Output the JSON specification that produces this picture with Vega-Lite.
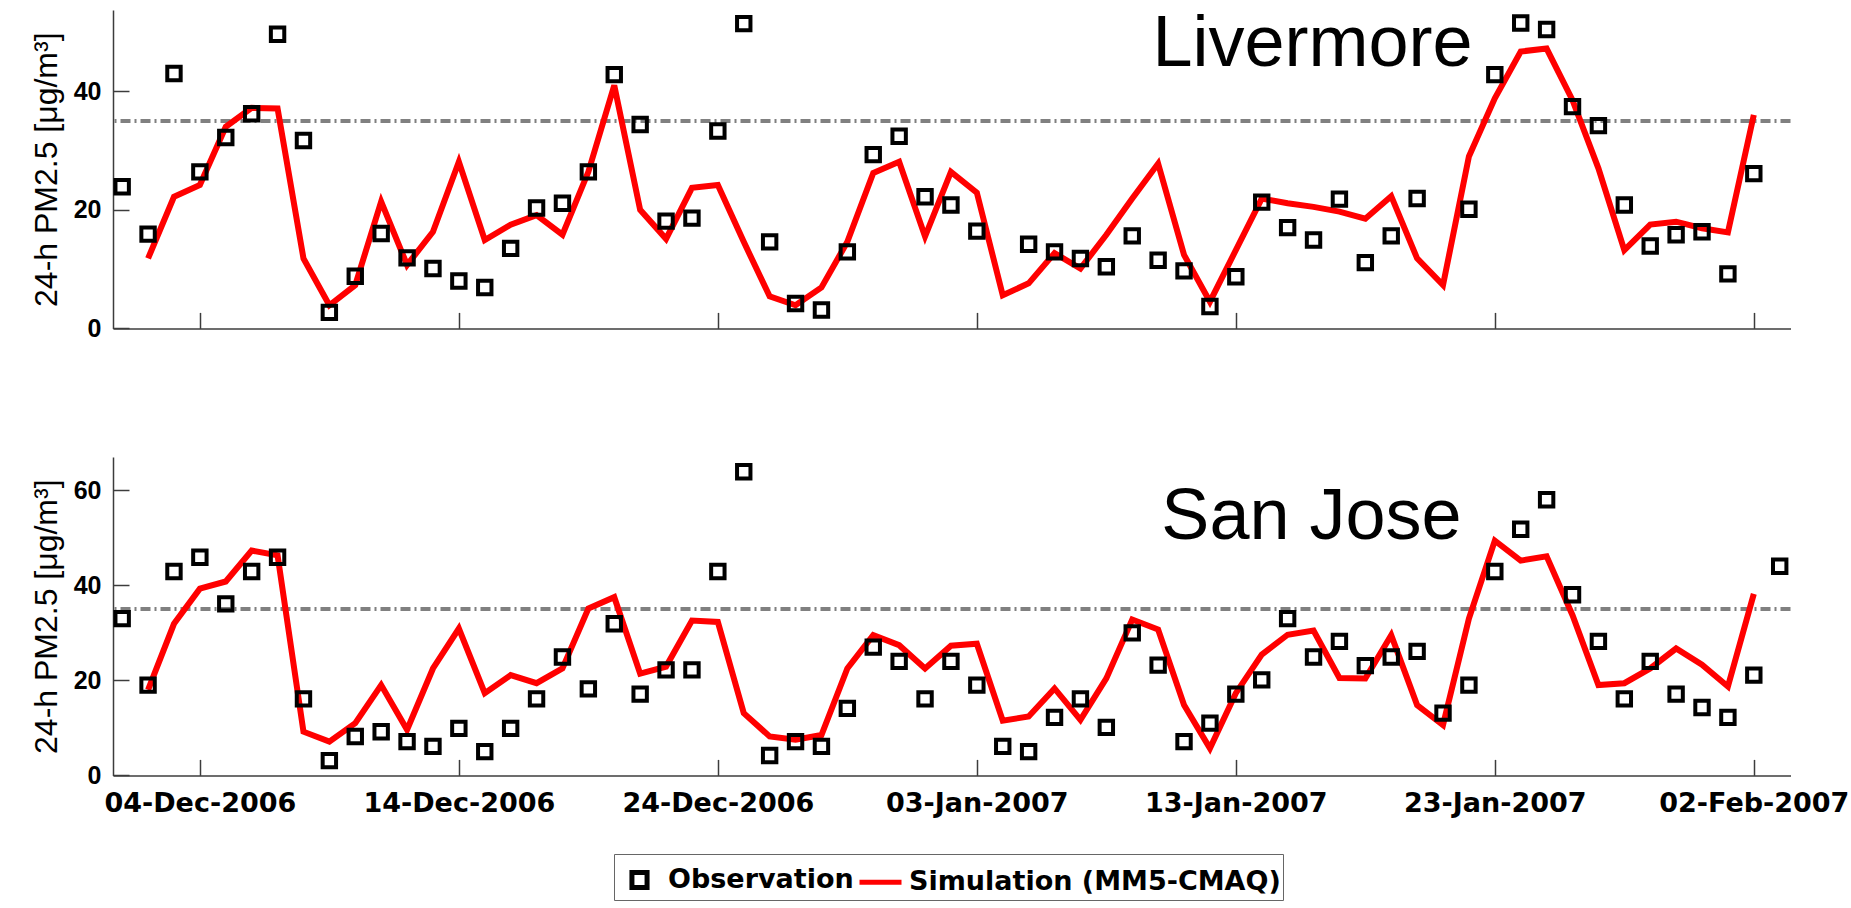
{
  "$schema": "https://vega.github.io/schema/vega-lite/v6.json",
  "autosize": {"type": "pad"},
  "padding": {"left": 30, "top": 8, "right": 0, "bottom": 0},
  "background": "white",
  "bounds": "flush",
  "spacing": 128,
  "config": {
    "view": {"stroke": null},
    "axis": {
      "domainColor": "#3c3c3c", "domainWidth": 1.5, "tickColor": "#3c3c3c", "tickWidth": 1.5, "tickSize": -16,
      "grid": false, "labelColor": "#000", "labelFlush": false, "labelOverlap": false, "labelLimit": 400,
      "titleFont": "Liberation Sans", "titleFontWeight": "normal", "titleFontSize": 32, "titleColor": "#000", "titlePadding": 10
    },
    "legend": {
      "orient": "none", "legendX": 501, "legendY": 844, "direction": "horizontal", "title": null,
      "labelFont": "DejaVu Sans", "labelFontWeight": "bold", "labelFontSize": 27, "labelColor": "#000", "labelLimit": 600,
      "symbolSize": 1764, "symbolStrokeWidth": 5, "labelOffset": 5, "columnPadding": -5,
      "strokeColor": "#666", "fillColor": "white", "padding": 2
    }
  },
  "resolve": {"scale": {"y": "independent", "x": "shared", "color": "shared", "shape": "shared"}},
  "datasets": {
    "pm": [
      {"station":"Livermore","series":"Observation","date":"2006-12-01","value":23.9},
      {"station":"Livermore","series":"Observation","date":"2006-12-02","value":15.9},
      {"station":"Livermore","series":"Observation","date":"2006-12-03","value":43.0},
      {"station":"Livermore","series":"Observation","date":"2006-12-04","value":26.4},
      {"station":"Livermore","series":"Observation","date":"2006-12-05","value":32.2},
      {"station":"Livermore","series":"Observation","date":"2006-12-06","value":36.2},
      {"station":"Livermore","series":"Observation","date":"2006-12-07","value":49.6},
      {"station":"Livermore","series":"Observation","date":"2006-12-08","value":31.7},
      {"station":"Livermore","series":"Observation","date":"2006-12-09","value":2.7},
      {"station":"Livermore","series":"Observation","date":"2006-12-10","value":8.8},
      {"station":"Livermore","series":"Observation","date":"2006-12-11","value":16.0},
      {"station":"Livermore","series":"Observation","date":"2006-12-12","value":11.9},
      {"station":"Livermore","series":"Observation","date":"2006-12-13","value":10.1},
      {"station":"Livermore","series":"Observation","date":"2006-12-14","value":8.0},
      {"station":"Livermore","series":"Observation","date":"2006-12-15","value":6.9},
      {"station":"Livermore","series":"Observation","date":"2006-12-16","value":13.5},
      {"station":"Livermore","series":"Observation","date":"2006-12-17","value":20.3},
      {"station":"Livermore","series":"Observation","date":"2006-12-18","value":21.1},
      {"station":"Livermore","series":"Observation","date":"2006-12-19","value":26.4},
      {"station":"Livermore","series":"Observation","date":"2006-12-20","value":42.8},
      {"station":"Livermore","series":"Observation","date":"2006-12-21","value":34.4},
      {"station":"Livermore","series":"Observation","date":"2006-12-22","value":18.1},
      {"station":"Livermore","series":"Observation","date":"2006-12-23","value":18.6},
      {"station":"Livermore","series":"Observation","date":"2006-12-24","value":33.3},
      {"station":"Livermore","series":"Observation","date":"2006-12-25","value":51.4},
      {"station":"Livermore","series":"Observation","date":"2006-12-26","value":14.6},
      {"station":"Livermore","series":"Observation","date":"2006-12-27","value":4.2},
      {"station":"Livermore","series":"Observation","date":"2006-12-28","value":3.1},
      {"station":"Livermore","series":"Observation","date":"2006-12-29","value":12.9},
      {"station":"Livermore","series":"Observation","date":"2006-12-30","value":29.3},
      {"station":"Livermore","series":"Observation","date":"2006-12-31","value":32.4},
      {"station":"Livermore","series":"Observation","date":"2007-01-01","value":22.2},
      {"station":"Livermore","series":"Observation","date":"2007-01-02","value":20.8},
      {"station":"Livermore","series":"Observation","date":"2007-01-03","value":16.4},
      {"station":"Livermore","series":"Observation","date":"2007-01-05","value":14.2},
      {"station":"Livermore","series":"Observation","date":"2007-01-06","value":12.9},
      {"station":"Livermore","series":"Observation","date":"2007-01-07","value":11.8},
      {"station":"Livermore","series":"Observation","date":"2007-01-08","value":10.4},
      {"station":"Livermore","series":"Observation","date":"2007-01-09","value":15.6},
      {"station":"Livermore","series":"Observation","date":"2007-01-10","value":11.5},
      {"station":"Livermore","series":"Observation","date":"2007-01-11","value":9.7},
      {"station":"Livermore","series":"Observation","date":"2007-01-12","value":3.7},
      {"station":"Livermore","series":"Observation","date":"2007-01-13","value":8.7},
      {"station":"Livermore","series":"Observation","date":"2007-01-14","value":21.3},
      {"station":"Livermore","series":"Observation","date":"2007-01-15","value":17.0},
      {"station":"Livermore","series":"Observation","date":"2007-01-16","value":14.9},
      {"station":"Livermore","series":"Observation","date":"2007-01-17","value":21.8},
      {"station":"Livermore","series":"Observation","date":"2007-01-18","value":11.1},
      {"station":"Livermore","series":"Observation","date":"2007-01-19","value":15.6},
      {"station":"Livermore","series":"Observation","date":"2007-01-20","value":21.9},
      {"station":"Livermore","series":"Observation","date":"2007-01-22","value":20.1},
      {"station":"Livermore","series":"Observation","date":"2007-01-23","value":42.8},
      {"station":"Livermore","series":"Observation","date":"2007-01-24","value":51.5},
      {"station":"Livermore","series":"Observation","date":"2007-01-25","value":50.4},
      {"station":"Livermore","series":"Observation","date":"2007-01-26","value":37.4},
      {"station":"Livermore","series":"Observation","date":"2007-01-27","value":34.2},
      {"station":"Livermore","series":"Observation","date":"2007-01-28","value":20.8},
      {"station":"Livermore","series":"Observation","date":"2007-01-29","value":13.9},
      {"station":"Livermore","series":"Observation","date":"2007-01-30","value":15.8},
      {"station":"Livermore","series":"Observation","date":"2007-01-31","value":16.3},
      {"station":"Livermore","series":"Observation","date":"2007-02-01","value":9.2},
      {"station":"Livermore","series":"Observation","date":"2007-02-02","value":26.1},

      {"station":"Livermore","series":"Simulation (MM5-CMAQ)","date":"2006-12-02","value":11.8},
      {"station":"Livermore","series":"Simulation (MM5-CMAQ)","date":"2006-12-03","value":22.2},
      {"station":"Livermore","series":"Simulation (MM5-CMAQ)","date":"2006-12-04","value":24.2},
      {"station":"Livermore","series":"Simulation (MM5-CMAQ)","date":"2006-12-05","value":34.0},
      {"station":"Livermore","series":"Simulation (MM5-CMAQ)","date":"2006-12-06","value":37.2},
      {"station":"Livermore","series":"Simulation (MM5-CMAQ)","date":"2006-12-07","value":37.1},
      {"station":"Livermore","series":"Simulation (MM5-CMAQ)","date":"2006-12-08","value":11.8},
      {"station":"Livermore","series":"Simulation (MM5-CMAQ)","date":"2006-12-09","value":3.9},
      {"station":"Livermore","series":"Simulation (MM5-CMAQ)","date":"2006-12-10","value":7.3},
      {"station":"Livermore","series":"Simulation (MM5-CMAQ)","date":"2006-12-11","value":21.4},
      {"station":"Livermore","series":"Simulation (MM5-CMAQ)","date":"2006-12-12","value":10.7},
      {"station":"Livermore","series":"Simulation (MM5-CMAQ)","date":"2006-12-13","value":16.3},
      {"station":"Livermore","series":"Simulation (MM5-CMAQ)","date":"2006-12-14","value":28.1},
      {"station":"Livermore","series":"Simulation (MM5-CMAQ)","date":"2006-12-15","value":14.9},
      {"station":"Livermore","series":"Simulation (MM5-CMAQ)","date":"2006-12-16","value":17.5},
      {"station":"Livermore","series":"Simulation (MM5-CMAQ)","date":"2006-12-17","value":19.1},
      {"station":"Livermore","series":"Simulation (MM5-CMAQ)","date":"2006-12-18","value":15.8},
      {"station":"Livermore","series":"Simulation (MM5-CMAQ)","date":"2006-12-19","value":26.4},
      {"station":"Livermore","series":"Simulation (MM5-CMAQ)","date":"2006-12-20","value":41.0},
      {"station":"Livermore","series":"Simulation (MM5-CMAQ)","date":"2006-12-21","value":20.0},
      {"station":"Livermore","series":"Simulation (MM5-CMAQ)","date":"2006-12-22","value":15.1},
      {"station":"Livermore","series":"Simulation (MM5-CMAQ)","date":"2006-12-23","value":23.7},
      {"station":"Livermore","series":"Simulation (MM5-CMAQ)","date":"2006-12-24","value":24.2},
      {"station":"Livermore","series":"Simulation (MM5-CMAQ)","date":"2006-12-25","value":14.6},
      {"station":"Livermore","series":"Simulation (MM5-CMAQ)","date":"2006-12-26","value":5.4},
      {"station":"Livermore","series":"Simulation (MM5-CMAQ)","date":"2006-12-27","value":3.9},
      {"station":"Livermore","series":"Simulation (MM5-CMAQ)","date":"2006-12-28","value":6.9},
      {"station":"Livermore","series":"Simulation (MM5-CMAQ)","date":"2006-12-29","value":14.6},
      {"station":"Livermore","series":"Simulation (MM5-CMAQ)","date":"2006-12-30","value":26.2},
      {"station":"Livermore","series":"Simulation (MM5-CMAQ)","date":"2006-12-31","value":28.1},
      {"station":"Livermore","series":"Simulation (MM5-CMAQ)","date":"2007-01-01","value":15.5},
      {"station":"Livermore","series":"Simulation (MM5-CMAQ)","date":"2007-01-02","value":26.4},
      {"station":"Livermore","series":"Simulation (MM5-CMAQ)","date":"2007-01-03","value":22.9},
      {"station":"Livermore","series":"Simulation (MM5-CMAQ)","date":"2007-01-04","value":5.6},
      {"station":"Livermore","series":"Simulation (MM5-CMAQ)","date":"2007-01-05","value":7.6},
      {"station":"Livermore","series":"Simulation (MM5-CMAQ)","date":"2007-01-06","value":12.7},
      {"station":"Livermore","series":"Simulation (MM5-CMAQ)","date":"2007-01-07","value":10.1},
      {"station":"Livermore","series":"Simulation (MM5-CMAQ)","date":"2007-01-08","value":15.8},
      {"station":"Livermore","series":"Simulation (MM5-CMAQ)","date":"2007-01-09","value":21.9},
      {"station":"Livermore","series":"Simulation (MM5-CMAQ)","date":"2007-01-10","value":27.8},
      {"station":"Livermore","series":"Simulation (MM5-CMAQ)","date":"2007-01-11","value":12.4},
      {"station":"Livermore","series":"Simulation (MM5-CMAQ)","date":"2007-01-12","value":4.5},
      {"station":"Livermore","series":"Simulation (MM5-CMAQ)","date":"2007-01-13","value":13.2},
      {"station":"Livermore","series":"Simulation (MM5-CMAQ)","date":"2007-01-14","value":21.9},
      {"station":"Livermore","series":"Simulation (MM5-CMAQ)","date":"2007-01-15","value":21.1},
      {"station":"Livermore","series":"Simulation (MM5-CMAQ)","date":"2007-01-16","value":20.5},
      {"station":"Livermore","series":"Simulation (MM5-CMAQ)","date":"2007-01-17","value":19.7},
      {"station":"Livermore","series":"Simulation (MM5-CMAQ)","date":"2007-01-18","value":18.5},
      {"station":"Livermore","series":"Simulation (MM5-CMAQ)","date":"2007-01-19","value":22.3},
      {"station":"Livermore","series":"Simulation (MM5-CMAQ)","date":"2007-01-20","value":11.8},
      {"station":"Livermore","series":"Simulation (MM5-CMAQ)","date":"2007-01-21","value":7.3},
      {"station":"Livermore","series":"Simulation (MM5-CMAQ)","date":"2007-01-22","value":29.0},
      {"station":"Livermore","series":"Simulation (MM5-CMAQ)","date":"2007-01-23","value":38.8},
      {"station":"Livermore","series":"Simulation (MM5-CMAQ)","date":"2007-01-24","value":46.7},
      {"station":"Livermore","series":"Simulation (MM5-CMAQ)","date":"2007-01-25","value":47.2},
      {"station":"Livermore","series":"Simulation (MM5-CMAQ)","date":"2007-01-26","value":38.5},
      {"station":"Livermore","series":"Simulation (MM5-CMAQ)","date":"2007-01-27","value":27.0},
      {"station":"Livermore","series":"Simulation (MM5-CMAQ)","date":"2007-01-28","value":13.2},
      {"station":"Livermore","series":"Simulation (MM5-CMAQ)","date":"2007-01-29","value":17.5},
      {"station":"Livermore","series":"Simulation (MM5-CMAQ)","date":"2007-01-30","value":18.0},
      {"station":"Livermore","series":"Simulation (MM5-CMAQ)","date":"2007-01-31","value":16.9},
      {"station":"Livermore","series":"Simulation (MM5-CMAQ)","date":"2007-02-01","value":16.2},
      {"station":"Livermore","series":"Simulation (MM5-CMAQ)","date":"2007-02-02","value":36.0},

      {"station":"San Jose","series":"Observation","date":"2006-12-01","value":33.0},
      {"station":"San Jose","series":"Observation","date":"2006-12-02","value":19.0},
      {"station":"San Jose","series":"Observation","date":"2006-12-03","value":42.9},
      {"station":"San Jose","series":"Observation","date":"2006-12-04","value":45.9},
      {"station":"San Jose","series":"Observation","date":"2006-12-05","value":36.1},
      {"station":"San Jose","series":"Observation","date":"2006-12-06","value":42.9},
      {"station":"San Jose","series":"Observation","date":"2006-12-07","value":45.9},
      {"station":"San Jose","series":"Observation","date":"2006-12-08","value":16.1},
      {"station":"San Jose","series":"Observation","date":"2006-12-09","value":3.1},
      {"station":"San Jose","series":"Observation","date":"2006-12-10","value":8.2},
      {"station":"San Jose","series":"Observation","date":"2006-12-11","value":9.2},
      {"station":"San Jose","series":"Observation","date":"2006-12-12","value":7.1},
      {"station":"San Jose","series":"Observation","date":"2006-12-13","value":6.1},
      {"station":"San Jose","series":"Observation","date":"2006-12-14","value":9.9},
      {"station":"San Jose","series":"Observation","date":"2006-12-15","value":5.0},
      {"station":"San Jose","series":"Observation","date":"2006-12-16","value":9.9},
      {"station":"San Jose","series":"Observation","date":"2006-12-17","value":16.1},
      {"station":"San Jose","series":"Observation","date":"2006-12-18","value":24.9},
      {"station":"San Jose","series":"Observation","date":"2006-12-19","value":18.2},
      {"station":"San Jose","series":"Observation","date":"2006-12-20","value":31.9},
      {"station":"San Jose","series":"Observation","date":"2006-12-21","value":17.1},
      {"station":"San Jose","series":"Observation","date":"2006-12-22","value":22.2},
      {"station":"San Jose","series":"Observation","date":"2006-12-23","value":22.2},
      {"station":"San Jose","series":"Observation","date":"2006-12-24","value":42.9},
      {"station":"San Jose","series":"Observation","date":"2006-12-25","value":63.9},
      {"station":"San Jose","series":"Observation","date":"2006-12-26","value":4.2},
      {"station":"San Jose","series":"Observation","date":"2006-12-27","value":7.1},
      {"station":"San Jose","series":"Observation","date":"2006-12-28","value":6.1},
      {"station":"San Jose","series":"Observation","date":"2006-12-29","value":14.1},
      {"station":"San Jose","series":"Observation","date":"2006-12-30","value":27.0},
      {"station":"San Jose","series":"Observation","date":"2006-12-31","value":24.0},
      {"station":"San Jose","series":"Observation","date":"2007-01-01","value":16.1},
      {"station":"San Jose","series":"Observation","date":"2007-01-02","value":24.0},
      {"station":"San Jose","series":"Observation","date":"2007-01-03","value":19.0},
      {"station":"San Jose","series":"Observation","date":"2007-01-04","value":6.1},
      {"station":"San Jose","series":"Observation","date":"2007-01-05","value":5.0},
      {"station":"San Jose","series":"Observation","date":"2007-01-06","value":12.2},
      {"station":"San Jose","series":"Observation","date":"2007-01-07","value":16.1},
      {"station":"San Jose","series":"Observation","date":"2007-01-08","value":10.1},
      {"station":"San Jose","series":"Observation","date":"2007-01-09","value":30.0},
      {"station":"San Jose","series":"Observation","date":"2007-01-10","value":23.2},
      {"station":"San Jose","series":"Observation","date":"2007-01-11","value":7.1},
      {"station":"San Jose","series":"Observation","date":"2007-01-12","value":11.0},
      {"station":"San Jose","series":"Observation","date":"2007-01-13","value":17.1},
      {"station":"San Jose","series":"Observation","date":"2007-01-14","value":20.1},
      {"station":"San Jose","series":"Observation","date":"2007-01-15","value":33.0},
      {"station":"San Jose","series":"Observation","date":"2007-01-16","value":24.9},
      {"station":"San Jose","series":"Observation","date":"2007-01-17","value":28.2},
      {"station":"San Jose","series":"Observation","date":"2007-01-18","value":23.1},
      {"station":"San Jose","series":"Observation","date":"2007-01-19","value":24.9},
      {"station":"San Jose","series":"Observation","date":"2007-01-20","value":26.1},
      {"station":"San Jose","series":"Observation","date":"2007-01-21","value":13.1},
      {"station":"San Jose","series":"Observation","date":"2007-01-22","value":19.0},
      {"station":"San Jose","series":"Observation","date":"2007-01-23","value":42.9},
      {"station":"San Jose","series":"Observation","date":"2007-01-24","value":51.8},
      {"station":"San Jose","series":"Observation","date":"2007-01-25","value":58.0},
      {"station":"San Jose","series":"Observation","date":"2007-01-26","value":38.0},
      {"station":"San Jose","series":"Observation","date":"2007-01-27","value":28.2},
      {"station":"San Jose","series":"Observation","date":"2007-01-28","value":16.1},
      {"station":"San Jose","series":"Observation","date":"2007-01-29","value":24.0},
      {"station":"San Jose","series":"Observation","date":"2007-01-30","value":17.1},
      {"station":"San Jose","series":"Observation","date":"2007-01-31","value":14.3},
      {"station":"San Jose","series":"Observation","date":"2007-02-01","value":12.2},
      {"station":"San Jose","series":"Observation","date":"2007-02-02","value":21.1},
      {"station":"San Jose","series":"Observation","date":"2007-02-03","value":44.0},

      {"station":"San Jose","series":"Simulation (MM5-CMAQ)","date":"2006-12-02","value":18.0},
      {"station":"San Jose","series":"Simulation (MM5-CMAQ)","date":"2006-12-03","value":31.9},
      {"station":"San Jose","series":"Simulation (MM5-CMAQ)","date":"2006-12-04","value":39.3},
      {"station":"San Jose","series":"Simulation (MM5-CMAQ)","date":"2006-12-05","value":40.8},
      {"station":"San Jose","series":"Simulation (MM5-CMAQ)","date":"2006-12-06","value":47.3},
      {"station":"San Jose","series":"Simulation (MM5-CMAQ)","date":"2006-12-07","value":46.3},
      {"station":"San Jose","series":"Simulation (MM5-CMAQ)","date":"2006-12-08","value":9.2},
      {"station":"San Jose","series":"Simulation (MM5-CMAQ)","date":"2006-12-09","value":7.1},
      {"station":"San Jose","series":"Simulation (MM5-CMAQ)","date":"2006-12-10","value":11.0},
      {"station":"San Jose","series":"Simulation (MM5-CMAQ)","date":"2006-12-11","value":19.0},
      {"station":"San Jose","series":"Simulation (MM5-CMAQ)","date":"2006-12-12","value":9.6},
      {"station":"San Jose","series":"Simulation (MM5-CMAQ)","date":"2006-12-13","value":22.5},
      {"station":"San Jose","series":"Simulation (MM5-CMAQ)","date":"2006-12-14","value":30.9},
      {"station":"San Jose","series":"Simulation (MM5-CMAQ)","date":"2006-12-15","value":17.3},
      {"station":"San Jose","series":"Simulation (MM5-CMAQ)","date":"2006-12-16","value":21.1},
      {"station":"San Jose","series":"Simulation (MM5-CMAQ)","date":"2006-12-17","value":19.4},
      {"station":"San Jose","series":"Simulation (MM5-CMAQ)","date":"2006-12-18","value":22.5},
      {"station":"San Jose","series":"Simulation (MM5-CMAQ)","date":"2006-12-19","value":35.1},
      {"station":"San Jose","series":"Simulation (MM5-CMAQ)","date":"2006-12-20","value":37.5},
      {"station":"San Jose","series":"Simulation (MM5-CMAQ)","date":"2006-12-21","value":21.4},
      {"station":"San Jose","series":"Simulation (MM5-CMAQ)","date":"2006-12-22","value":22.9},
      {"station":"San Jose","series":"Simulation (MM5-CMAQ)","date":"2006-12-23","value":32.6},
      {"station":"San Jose","series":"Simulation (MM5-CMAQ)","date":"2006-12-24","value":32.3},
      {"station":"San Jose","series":"Simulation (MM5-CMAQ)","date":"2006-12-25","value":13.1},
      {"station":"San Jose","series":"Simulation (MM5-CMAQ)","date":"2006-12-26","value":8.2},
      {"station":"San Jose","series":"Simulation (MM5-CMAQ)","date":"2006-12-27","value":7.5},
      {"station":"San Jose","series":"Simulation (MM5-CMAQ)","date":"2006-12-28","value":8.5},
      {"station":"San Jose","series":"Simulation (MM5-CMAQ)","date":"2006-12-29","value":22.5},
      {"station":"San Jose","series":"Simulation (MM5-CMAQ)","date":"2006-12-30","value":29.5},
      {"station":"San Jose","series":"Simulation (MM5-CMAQ)","date":"2006-12-31","value":27.4},
      {"station":"San Jose","series":"Simulation (MM5-CMAQ)","date":"2007-01-01","value":22.5},
      {"station":"San Jose","series":"Simulation (MM5-CMAQ)","date":"2007-01-02","value":27.3},
      {"station":"San Jose","series":"Simulation (MM5-CMAQ)","date":"2007-01-03","value":27.7},
      {"station":"San Jose","series":"Simulation (MM5-CMAQ)","date":"2007-01-04","value":11.5},
      {"station":"San Jose","series":"Simulation (MM5-CMAQ)","date":"2007-01-05","value":12.4},
      {"station":"San Jose","series":"Simulation (MM5-CMAQ)","date":"2007-01-06","value":18.3},
      {"station":"San Jose","series":"Simulation (MM5-CMAQ)","date":"2007-01-07","value":11.7},
      {"station":"San Jose","series":"Simulation (MM5-CMAQ)","date":"2007-01-08","value":20.4},
      {"station":"San Jose","series":"Simulation (MM5-CMAQ)","date":"2007-01-09","value":32.8},
      {"station":"San Jose","series":"Simulation (MM5-CMAQ)","date":"2007-01-10","value":30.7},
      {"station":"San Jose","series":"Simulation (MM5-CMAQ)","date":"2007-01-11","value":14.8},
      {"station":"San Jose","series":"Simulation (MM5-CMAQ)","date":"2007-01-12","value":5.7},
      {"station":"San Jose","series":"Simulation (MM5-CMAQ)","date":"2007-01-13","value":17.3},
      {"station":"San Jose","series":"Simulation (MM5-CMAQ)","date":"2007-01-14","value":25.4},
      {"station":"San Jose","series":"Simulation (MM5-CMAQ)","date":"2007-01-15","value":29.6},
      {"station":"San Jose","series":"Simulation (MM5-CMAQ)","date":"2007-01-16","value":30.5},
      {"station":"San Jose","series":"Simulation (MM5-CMAQ)","date":"2007-01-17","value":20.5},
      {"station":"San Jose","series":"Simulation (MM5-CMAQ)","date":"2007-01-18","value":20.4},
      {"station":"San Jose","series":"Simulation (MM5-CMAQ)","date":"2007-01-19","value":29.5},
      {"station":"San Jose","series":"Simulation (MM5-CMAQ)","date":"2007-01-20","value":14.8},
      {"station":"San Jose","series":"Simulation (MM5-CMAQ)","date":"2007-01-21","value":10.6},
      {"station":"San Jose","series":"Simulation (MM5-CMAQ)","date":"2007-01-22","value":33.0},
      {"station":"San Jose","series":"Simulation (MM5-CMAQ)","date":"2007-01-23","value":49.4},
      {"station":"San Jose","series":"Simulation (MM5-CMAQ)","date":"2007-01-24","value":45.2},
      {"station":"San Jose","series":"Simulation (MM5-CMAQ)","date":"2007-01-25","value":46.1},
      {"station":"San Jose","series":"Simulation (MM5-CMAQ)","date":"2007-01-26","value":33.7},
      {"station":"San Jose","series":"Simulation (MM5-CMAQ)","date":"2007-01-27","value":19.0},
      {"station":"San Jose","series":"Simulation (MM5-CMAQ)","date":"2007-01-28","value":19.4},
      {"station":"San Jose","series":"Simulation (MM5-CMAQ)","date":"2007-01-29","value":22.5},
      {"station":"San Jose","series":"Simulation (MM5-CMAQ)","date":"2007-01-30","value":26.7},
      {"station":"San Jose","series":"Simulation (MM5-CMAQ)","date":"2007-01-31","value":23.3},
      {"station":"San Jose","series":"Simulation (MM5-CMAQ)","date":"2007-02-01","value":18.7},
      {"station":"San Jose","series":"Simulation (MM5-CMAQ)","date":"2007-02-02","value":38.2}
    ]
  },
  "vconcat": [
    {
      "width": 1677.5,
      "height": 318.4,
      "layer": [
        {
          "data": {"values": [{}]},
          "mark": {"type": "rule", "color": "#808080", "strokeWidth": 4, "strokeDash": [10, 4, 2, 4]},
          "encoding": {"y": {"datum": 35, "type": "quantitative"}}
        },
        {
          "data": {"name": "pm"},
          "transform": [{"filter": "datum.station === 'Livermore' && datum.series === 'Simulation (MM5-CMAQ)'"}],
          "mark": {"type": "line", "strokeWidth": 6},
          "encoding": {
            "x": {"field": "date", "type": "temporal",
              "scale": {"type": "utc", "nice": false, "domain": [{"year": 2006, "month": 11, "date": 30, "hours": 15, "minutes": 30, "utc": true}, {"year": 2007, "month": 2, "date": 3, "hours": 10, "utc": true}]},
              "axis": {"title": null, "labels": false,
                "values": [{"year": 2006, "month": 12, "date": 4, "utc": true}, {"year": 2006, "month": 12, "date": 14, "utc": true}, {"year": 2006, "month": 12, "date": 24, "utc": true}, {"year": 2007, "month": 1, "date": 3, "utc": true}, {"year": 2007, "month": 1, "date": 13, "utc": true}, {"year": 2007, "month": 1, "date": 23, "utc": true}, {"year": 2007, "month": 2, "date": 2, "utc": true}]}},
            "y": {"field": "value", "type": "quantitative",
              "scale": {"domain": [0, 53.7], "nice": false, "zero": false},
              "axis": {"values": [0, 20, 40], "title": "24-h PM2.5 [μg/m³]",
                "labelFont": "Liberation Sans", "labelFontWeight": "bold", "labelFontSize": 25, "labelPadding": 28}},
            "color": {"field": "series", "type": "nominal",
              "scale": {"domain": ["Observation", "Simulation (MM5-CMAQ)"], "range": ["#000000", "#ff0000"]}}
          }
        },
        {
          "data": {"name": "pm"},
          "transform": [{"filter": "datum.station === 'Livermore' && datum.series === 'Observation'"}],
          "mark": {"type": "point", "filled": false, "size": 1386, "strokeWidth": 4, "opacity": 1},
          "encoding": {
            "x": {"field": "date", "type": "temporal"},
            "y": {"field": "value", "type": "quantitative"},
            "color": {"field": "series", "type": "nominal",
              "scale": {"domain": ["Observation", "Simulation (MM5-CMAQ)"], "range": ["#000000", "#ff0000"]}},
            "shape": {"field": "series", "type": "nominal",
              "scale": {"domain": ["Observation", "Simulation (MM5-CMAQ)"], "range": ["M-0.36,-0.36H0.36V0.36H-0.36Z", "M-1,0H1"]}}
          }
        },
        {
          "data": {"values": [{}]},
          "mark": {"type": "text", "text": "Livermore", "font": "Liberation Sans", "fontSize": 72, "align": "left", "baseline": "alphabetic", "color": "#000"},
          "encoding": {
            "x": {"datum": {"year": 2007, "month": 1, "date": 9, "hours": 18, "minutes": 45, "utc": true}, "type": "temporal"},
            "y": {"datum": 44.2, "type": "quantitative"}
          }
        }
      ]
    },
    {
      "width": 1677.5,
      "height": 318.4,
      "layer": [
        {
          "data": {"values": [{}]},
          "mark": {"type": "rule", "color": "#808080", "strokeWidth": 4, "strokeDash": [10, 4, 2, 4]},
          "encoding": {"y": {"datum": 35, "type": "quantitative"}}
        },
        {
          "data": {"name": "pm"},
          "transform": [{"filter": "datum.station === 'San Jose' && datum.series === 'Simulation (MM5-CMAQ)'"}],
          "mark": {"type": "line", "strokeWidth": 6},
          "encoding": {
            "x": {"field": "date", "type": "temporal",
              "scale": {"type": "utc", "nice": false, "domain": [{"year": 2006, "month": 11, "date": 30, "hours": 15, "minutes": 30, "utc": true}, {"year": 2007, "month": 2, "date": 3, "hours": 10, "utc": true}]},
              "axis": {"title": null, "format": "%d-%b-%Y",
                "labelFont": "DejaVu Sans", "labelFontWeight": "bold", "labelFontSize": 27, "labelPadding": 31, "labelLimit": 400,
                "values": [{"year": 2006, "month": 12, "date": 4, "utc": true}, {"year": 2006, "month": 12, "date": 14, "utc": true}, {"year": 2006, "month": 12, "date": 24, "utc": true}, {"year": 2007, "month": 1, "date": 3, "utc": true}, {"year": 2007, "month": 1, "date": 13, "utc": true}, {"year": 2007, "month": 1, "date": 23, "utc": true}, {"year": 2007, "month": 2, "date": 2, "utc": true}]}},
            "y": {"field": "value", "type": "quantitative",
              "scale": {"domain": [0, 67], "nice": false, "zero": false},
              "axis": {"values": [0, 20, 40, 60], "title": "24-h PM2.5 [μg/m³]",
                "labelFont": "Liberation Sans", "labelFontWeight": "bold", "labelFontSize": 25, "labelPadding": 28}},
            "color": {"field": "series", "type": "nominal",
              "scale": {"domain": ["Observation", "Simulation (MM5-CMAQ)"], "range": ["#000000", "#ff0000"]}}
          }
        },
        {
          "data": {"name": "pm"},
          "transform": [{"filter": "datum.station === 'San Jose' && datum.series === 'Observation'"}],
          "mark": {"type": "point", "filled": false, "size": 1386, "strokeWidth": 4, "opacity": 1},
          "encoding": {
            "x": {"field": "date", "type": "temporal"},
            "y": {"field": "value", "type": "quantitative"},
            "color": {"field": "series", "type": "nominal",
              "scale": {"domain": ["Observation", "Simulation (MM5-CMAQ)"], "range": ["#000000", "#ff0000"]}},
            "shape": {"field": "series", "type": "nominal",
              "scale": {"domain": ["Observation", "Simulation (MM5-CMAQ)"], "range": ["M-0.36,-0.36H0.36V0.36H-0.36Z", "M-1,0H1"]}}
          }
        },
        {
          "data": {"values": [{}]},
          "mark": {"type": "text", "text": "San Jose", "font": "Liberation Sans", "fontSize": 72, "align": "left", "baseline": "alphabetic", "color": "#000"},
          "encoding": {
            "x": {"datum": {"year": 2007, "month": 1, "date": 10, "hours": 3, "utc": true}, "type": "temporal"},
            "y": {"datum": 49.8, "type": "quantitative"}
          }
        }
      ]
    }
  ]
}
